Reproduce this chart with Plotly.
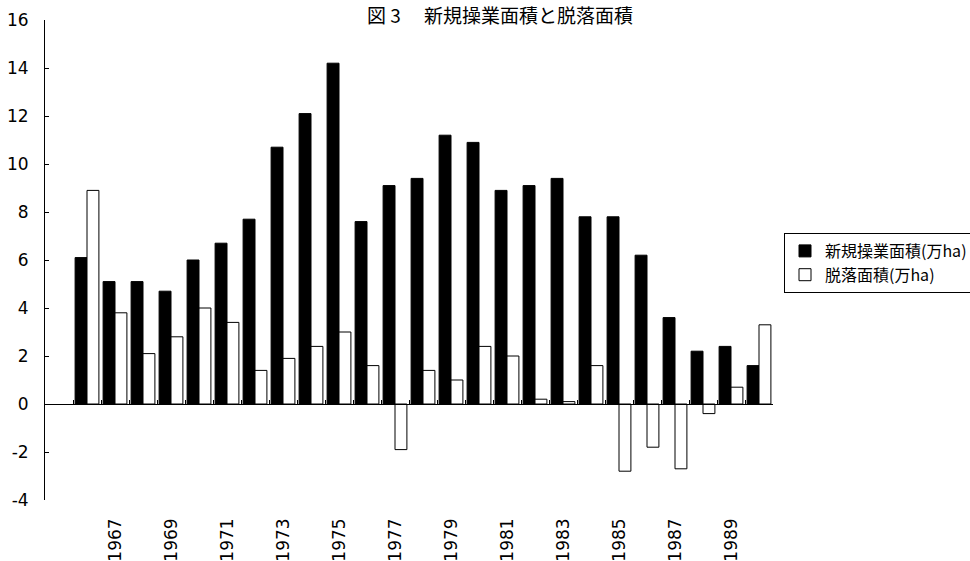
import plotly.graph_objects as go

# 年次（1966〜1990）
years = [str(y) for y in range(1966, 1991)]
label_years = [str(y) for y in range(1967, 1991, 2)]

# 新規操業面積（万ha）
new_area = [6.1, 5.1, 5.1, 4.7, 6.0, 6.7, 7.7, 10.7, 12.1, 14.2,
            7.6, 9.1, 9.4, 11.2, 10.9, 8.9, 9.1, 9.4, 7.8, 7.8,
            6.2, 3.6, 2.2, 2.4, 1.6]

# 脱落面積（万ha）
drop_area = [8.9, 3.8, 2.1, 2.8, 4.0, 3.4, 1.4, 1.9, 2.4, 3.0,
             1.6, -1.9, 1.4, 1.0, 2.4, 2.0, 0.2, 0.1, 1.6, -2.8,
             -1.8, -2.7, -0.4, 0.7, 3.3]

y_ticks = list(range(-4, 17, 2))
y_tick_text = [str(v) for v in y_ticks]  # plain hyphen for negatives

num_font = "DejaVu Sans"
cjk_font = "Noto Sans CJK JP"

fig = go.Figure()
fig.add_trace(go.Bar(
    x=years, y=new_area, name="新規操業面積(万ha)",
    marker=dict(color="black", line=dict(color="black", width=1)),
))
fig.add_trace(go.Bar(
    x=years, y=drop_area, name="脱落面積(万ha)",
    marker=dict(color="white", line=dict(color="black", width=1)),
))
# carrier for the category axis drawn along y = 0
fig.add_trace(go.Scatter(
    x=years, y=[0] * len(years), xaxis="x2", mode="markers",
    marker=dict(opacity=0), showlegend=False, hoverinfo="skip",
))

y_min, y_max = -4, 16
zero_pos = (0 - y_min) / (y_max - y_min)

fig.update_layout(
    width=970, height=561,
    margin=dict(l=45, r=197, t=20, b=61, autoexpand=False),
    paper_bgcolor="white", plot_bgcolor="white",
    barmode="group", bargap=0.15, bargroupgap=0,
    font=dict(family=num_font, size=17, color="black"),
    xaxis=dict(
        type="category", categoryorder="array", categoryarray=years,
        range=[-1.5, len(years) - 0.5],
        tickmode="array", tickvals=label_years, ticktext=label_years,
        tickangle=-90, ticks="", showline=False, showgrid=False,
        ticklabelstandoff=14, automargin=False,
        tickfont=dict(family=num_font, size=17),
    ),
    xaxis2=dict(
        type="category", categoryorder="array", categoryarray=years,
        overlaying="x", anchor="free", position=zero_pos,
        range=[-1.5, len(years) - 0.5],
        showline=True, linecolor="black", linewidth=1,
        ticks="inside", tickson="boundaries", ticklen=4,
        tickcolor="black", tickwidth=1,
        showticklabels=False, showgrid=False, automargin=False,
    ),
    yaxis=dict(
        range=[y_min, y_max], tickmode="array",
        tickvals=y_ticks, ticktext=y_tick_text,
        showline=True, linecolor="black", linewidth=1,
        ticks="inside", ticklen=4, tickcolor="black",
        showgrid=False, zeroline=False,
        ticklabelstandoff=12, automargin=False,
        tickfont=dict(family=num_font, size=17),
    ),
    legend=dict(
        x=(784 - 45) / 728, xanchor="left",
        y=(500 - 233) / 480, yanchor="top",
        bgcolor="white", bordercolor="black", borderwidth=1,
        font=dict(family=cjk_font, size=16, color="black"),
        tracegroupgap=2, itemwidth=30,
    ),
    showlegend=True,
)

fig.add_annotation(
    text="図 3　 新規操業面積と脱落面積",
    xref="paper", yref="paper",
    x=(500 - 45) / 728, y=1 + 6 / 480,
    xanchor="center", yanchor="middle",
    showarrow=False,
    font=dict(family=cjk_font, size=19, color="black"),
)

fig.write_html("out.html")
